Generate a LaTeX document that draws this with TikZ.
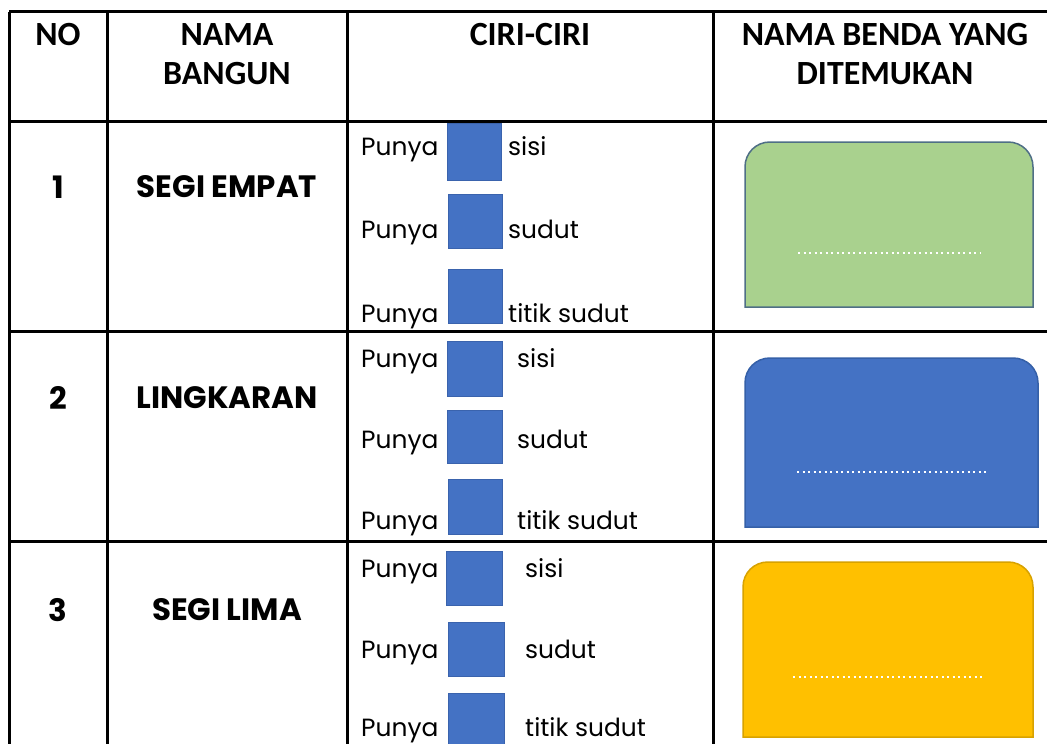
\documentclass[tikz,border=0pt]{standalone}
\usepackage{fontspec}
\setmainfont{Poppins}
\newfontfamily\hdrfont{Carlito}
\definecolor{sqblue}{HTML}{4472C4}
\definecolor{sqedge}{HTML}{3A63AD}
\definecolor{grfill}{HTML}{A9D18E}
\definecolor{gredge}{HTML}{4F6F86}
\definecolor{blfill}{HTML}{4472C4}
\definecolor{bledge}{HTML}{3560A8}
\definecolor{ylfill}{HTML}{FFC000}
\definecolor{yledge}{HTML}{D8A200}
\tikzset{
  gridline/.style={line width=3bp, black},
  hdr/.style={font=\hdrfont\bfseries\fontsize{34}{40}\selectfont, inner sep=0pt, anchor=base},
  lbl/.style={font=\bfseries\fontsize{31}{36}\selectfont, inner sep=0pt},
  body/.style={font=\fontsize{25}{30}\selectfont, inner sep=0pt, anchor=base west},
  blank/.style={fill=sqblue, draw=sqedge, line width=0.8bp},
  dots/.style={white, line width=2bp, dash pattern=on 2bp off 3.5bp},
}
\newcommand{\benda}[6]{%
  \path[draw=#6, fill=#5, line width=1.5bp]
    (#1,#4) -- (#1,#2+25) .. controls (#1,#2+11) and (#1+11,#2) .. (#1+25,#2)
    -- (#3-25,#2) .. controls (#3-11,#2) and (#3,#2+11) .. (#3,#2+25)
    -- (#3,#4) -- cycle;}
\begin{document}
\begin{tikzpicture}[x=1bp,y=-1bp]
\useasboundingbox (0,0) rectangle (1047,744);
\fill[white] (0,0) rectangle (1047,744);

% grid
\draw[gridline] (9,12) -- (1047,12);
\draw[gridline] (9,121) -- (1047,121);
\draw[gridline] (9,331) -- (1047,331);
\draw[gridline] (9,541) -- (1047,541);
\draw[gridline] (9,12) -- (9,744);
\draw[gridline] (107,12) -- (107,744);
\draw[gridline] (347,12) -- (347,744);
\draw[gridline] (713,12) -- (713,744);

% header
\node[hdr] (hno) at (58,46) {NO};
\node[hdr] (hnama1) at (227,46) {NAMA};
\node[hdr] (hnama2) at (227,85) {BANGUN};
\node[hdr] (hciri) at (530,46) {CIRI-CIRI};
\node[hdr] (hbenda1) at (885,46) {NAMA BENDA YANG};
\node[hdr] (hbenda2) at (885,85) {DITEMUKAN};

% row labels
\node[lbl] (n1) at (58,187) {1};
\node[lbl] (b1) at (227,187) {SEGI EMPAT};
\node[lbl] (n2) at (58,398) {2};
\node[lbl] (b2) at (227,398) {LINGKARAN};
\node[lbl] (n3) at (58,610) {3};
\node[lbl] (b3) at (227,610) {SEGI LIMA};

% row 1 features
\node[body] (p11) at (361,155) {Punya};
\node[body] (p12) at (361,238) {Punya};
\node[body] (p13) at (361,322) {Punya};
\draw[blank] (447,123) rectangle (501,180);
\draw[blank] (448,194) rectangle (502,248);
\draw[blank] (448,269) rectangle (502,323);
\node[body] (s11) at (508,155) {sisi};
\node[body] (s12) at (508,238) {sudut};
\node[body] (s13) at (508,322) {titik sudut};

% row 2 features
\node[body] (p21) at (361,367) {Punya};
\node[body] (p22) at (361,448) {Punya};
\node[body] (p23) at (361,529) {Punya};
\draw[blank] (447,341) rectangle (502,396);
\draw[blank] (447,410) rectangle (502,463);
\draw[blank] (448,479) rectangle (502,534);
\node[body] (s21) at (517,367) {sisi};
\node[body] (s22) at (517,448) {sudut};
\node[body] (s23) at (517,529) {titik sudut};

% row 3 features
\node[body] (p31) at (361,577) {Punya};
\node[body] (p32) at (361,658) {Punya};
\node[body] (p33) at (361,736) {Punya};
\draw[blank] (446,551) rectangle (502,605);
\draw[blank] (448,622) rectangle (504,676);
\draw[blank] (448,693) rectangle (504,752);
\node[body] (s31) at (525,577) {sisi};
\node[body] (s32) at (525,658) {sudut};
\node[body] (s33) at (525,736) {titik sudut};

% objects found
\benda{745}{142}{1033}{307}{grfill}{gredge}
\draw[dots] (798,253) -- (981,253);
\benda{745}{358}{1038}{527}{blfill}{bledge}
\draw[dots] (797,472) -- (988,472);
\benda{743}{562}{1033}{737}{ylfill}{yledge}
\draw[dots] (793,677) -- (985,677);
\end{tikzpicture}
\end{document}
